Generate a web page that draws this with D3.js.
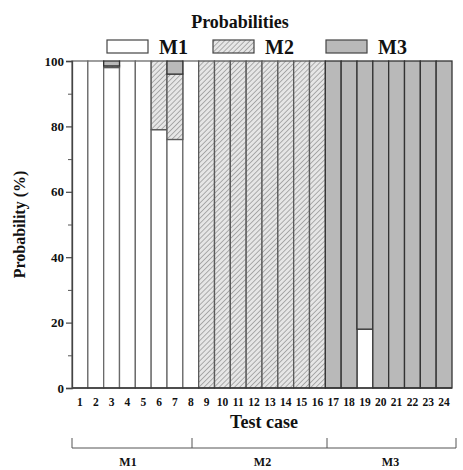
<!DOCTYPE html>
<html><head><meta charset="utf-8">
<script src="https://cdn.jsdelivr.net/npm/d3@7"></script>
<style>body{margin:0;background:#fff}svg{display:block}text{font-family:"Liberation Serif","Times New Roman",serif;font-weight:bold;fill:#111}</style>
</head><body><svg id="c" width="463" height="470"></svg>
<script>
const cases = d3.range(1, 25).map(String);
const m1 = [100,100,98,100,100,79,76,100, 0,0,0,0,0,0,0,0, 0,0,18,0,0,0,0,0];
const m2 = [0,0,0.5,0,0,21,20,0, 100,100,100,100,100,100,100,100, 0,0,0,0,0,0,0,0];
const m3 = [0,0,1.5,0,0,0,4,0, 0,0,0,0,0,0,0,0, 100,100,82,100,100,100,100,100];
const seriesNames = ["M1","M2","M3"];
const yTicks = [0,20,40,60,80,100];
const groupNames = ["M1","M2","M3"];

const svg = d3.select("#c");
const defs = svg.append("defs");
const pat = defs.append("pattern").attr("id","hatch").attr("patternUnits","userSpaceOnUse")
  .attr("width",3.6).attr("height",3.6).attr("patternTransform","rotate(45)");
pat.append("rect").attr("width",3.6).attr("height",3.6).attr("fill","#e6e6e6");
pat.append("line").attr("x1",0).attr("y1",0).attr("x2",0).attr("y2",3.6).attr("stroke","#7a7a7a").attr("stroke-width",1.1);

const fills = {M1:"#ffffff", M2:"url(#hatch)", M3:"#b9b9b9"};
const strokes = {M1:"#6a6a6a", M2:"#5a5a5a", M3:"#333"};

const L = 72, R = 452, T = 61, B = 388;
const x = d3.scaleBand().domain(cases).range([L, R]).padding(0);
const y = d3.scaleLinear().domain([0,100]).range([B, T]);

const data = cases.map((c,i)=>({case:c, M1:m1[i], M2:m2[i], M3:m3[i]}));
const stack = d3.stack().keys(seriesNames)(data);

const g = svg.append("g");
stack.forEach(s=>{
  g.selectAll(null).data(s.filter(d=>d[1]-d[0]>0)).join("rect")
   .attr("x", d=>x(d.data.case))
   .attr("width", x.bandwidth())
   .attr("y", d=>y(d[1]))
   .attr("height", d=>y(d[0])-y(d[1]))
   .attr("fill", fills[s.key])
   .attr("stroke", strokes[s.key])
   .attr("stroke-width", 1.3);
});

svg.append("line").attr("x1",L).attr("x2",R).attr("y1",B).attr("y2",B).attr("stroke","#333").attr("stroke-width",1.3);

const yAxis = d3.axisLeft(y).tickValues(yTicks).tickSize(6).tickPadding(2);
const ya = svg.append("g").attr("transform",`translate(${L},0)`).call(yAxis);
ya.select(".domain").attr("stroke","#444").attr("stroke-width",1.3);
ya.selectAll(".tick line").attr("stroke","#444").attr("stroke-width",1.2);
ya.selectAll(".tick text").style("font-size","13px").attr("fill","#111");
const minor = d3.axisLeft(y).tickValues([10,30,50,70,90]).tickSize(4).tickFormat("");
const ym = svg.append("g").attr("transform",`translate(${L},0)`).call(minor);
ym.select(".domain").remove();
ym.selectAll(".tick line").attr("stroke","#555");

svg.append("text").attr("transform",`translate(25,${(T+B)/2}) rotate(-90)`).attr("text-anchor","middle")
  .style("font-size","16px").text("Probability (%)");

const xAxis = d3.axisBottom(x).tickSize(0).tickPadding(10);
const xa = svg.append("g").attr("transform",`translate(0,${B})`).call(xAxis);
xa.select(".domain").remove();
xa.selectAll(".tick text").style("font-size","11.5px").attr("fill","#111");

svg.append("text").attr("x",(L+R)/2+2).attr("y",428).attr("text-anchor","middle").style("font-size","18px").text("Test case");

const by = 448;
const bnd = [72, 192, 327, 456];
const labelOffsets = [-4, 3, -1];
svg.append("line").attr("x1",bnd[0]).attr("x2",bnd[3]).attr("y1",by).attr("y2",by).attr("stroke","#555").attr("stroke-width",1);
bnd.forEach(b=>svg.append("line").attr("x1",b).attr("x2",b).attr("y1",by).attr("y2",by-10).attr("stroke","#555").attr("stroke-width",1));
groupNames.forEach((n,i)=>{
  svg.append("text").attr("x",(bnd[i]+bnd[i+1])/2+labelOffsets[i]).attr("y",466).attr("text-anchor","middle").style("font-size","12px").text(n);
});

svg.append("text").attr("x",240).attr("y",28).attr("text-anchor","middle").style("font-size","18px").text("Probabilities");
const legX = [107, 213, 326];
seriesNames.forEach((n,i)=>{
  svg.append("rect").attr("x",legX[i]).attr("y",40).attr("width",41).attr("height",13)
    .attr("fill",fills[n]).attr("stroke","#444").attr("stroke-width",1.2);
  svg.append("text").attr("x",legX[i]+52).attr("y",54).style("font-size","20px").text(n);
});
</script></body></html>
